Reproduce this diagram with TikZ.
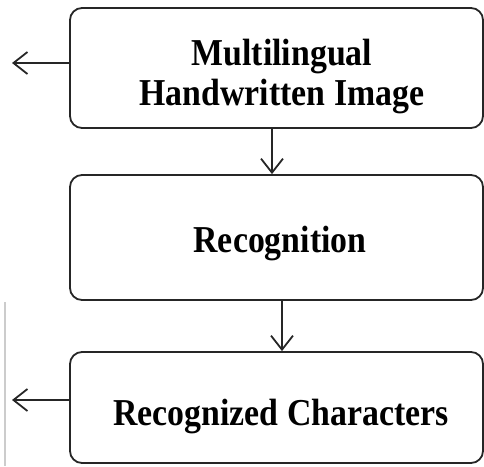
\documentclass[tikz,border=0pt]{standalone}
\usepackage{fontspec}
\setmainfont{Liberation Serif}[FakeStretch=0.89]
\usetikzlibrary{arrows.meta}
\begin{document}
\begin{tikzpicture}[x=1pt,y=1pt,
  box/.style={draw=black!85, line width=1.8pt, rounded corners=12pt, minimum width=413pt, inner sep=0pt},
  lbl/.style={font=\fontsize{38}{40}\selectfont\bfseries, anchor=base, inner sep=0pt},
  arr/.style={draw=black!85, line width=1.8pt, -{Straight Barb[length=14pt,width=22pt,line width=1.8pt]}}]
\useasboundingbox (0,0) rectangle (484,-466);
\node[box, minimum height=120pt] (b1) at (276.5,-68) {};
\node[box, minimum height=125pt] (b2) at (276.5,-237.5) {};
\node[box, minimum height=111pt] (b3) at (276.5,-407.5) {};
\node[lbl] (t1a) at (282,-65) {Multilingual};
\node[lbl] (t1b) at (282,-105) {Handwritten Image};
\node[lbl] (t2) at (280,-252) {Recognition};
\node[lbl] (t3) at (281,-425) {Recognized Characters};
\coordinate (o1) at (12,-63);
\coordinate (o3) at (12,-400);
\draw[arr] (b1.west |- o1) -- (o1);
\draw[arr] (b3.west |- o3) -- (o3);
\draw[arr] ([xshift=-4.5pt]b1.south) -- ([xshift=-4.5pt]b1.south |- b2.north);
\draw[arr] ([xshift=5.5pt]b2.south) -- ([xshift=5.5pt]b2.south |- b3.north);
\draw[black!20, line width=1.2pt] (5,-302) -- (5,-466);
\end{tikzpicture}
\end{document}
